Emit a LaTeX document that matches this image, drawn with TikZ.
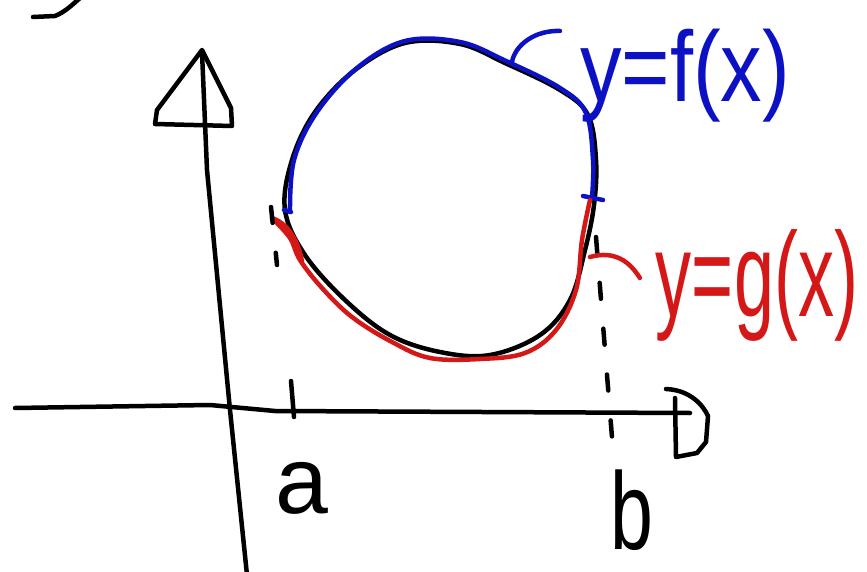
\documentclass[tikz,border=0pt]{standalone}
\usepackage{fontspec}
\setmainfont{Liberation Sans}
\usetikzlibrary{arrows.meta,positioning,calc}
\definecolor{penblue}{RGB}{12,18,195}
\definecolor{penred}{RGB}{212,24,24}

\begin{document}
\begin{tikzpicture}[x=1pt,y=-1pt,
    pen/.style={line width=4.5pt,line cap=round,line join=round},
    guide/.style={pen,dash pattern=on 16pt off 30pt},
    lbl/.style={inner sep=0pt,font=\fontsize{100}{100}\selectfont}]
    \useasboundingbox (0,0) rectangle (867,572);
    % stray stroke at the top left
    \draw[pen] (33,17) -- (55,16) .. controls (65,12) and (72,5) .. (80,-2);
    % axes, drawn by hand
    \draw[pen] (247,575) -- (230,410) -- (207,170) -- (202,52);
    \draw[pen] (202,50) -- (157,110) -- (155,124) -- (232,126) -- (231,108) -- cycle;
    \draw[pen] (15,408) -- (210,405) -- (275,411) -- (690,413);
    \draw[pen] (666,389) .. controls (690,390) and (703,405) .. (708,416)
        -- (706,442) -- (697,453) -- (676,457) -- (675,398);
    % the region
    \draw[pen] plot[smooth cycle,tension=0.6] coordinates {(285,210) (292,160) (315,112)
        (355,70) (405,43) (460,44) (505,63) (560,90) (588,115) (596,160) (594,205)
        (585,250) (570,300) (540,335) (490,355) (440,352) (390,335) (345,300) (305,255)};
    \draw[pen,penblue] plot[smooth,tension=0.6] coordinates {(290,212) (294,160) (317,112)
        (357,68) (405,41) (460,42) (506,61) (560,88) (586,113) (593,160) (592,198)};
    \draw[pen,penblue] (284,210) -- (291,212);
    \draw[pen,penblue] (583,196) -- (603,200);
    \draw[pen,penred] plot[smooth,tension=0.6] coordinates {(272,218) (290,238) (300,260)
        (322,288) (352,317) (392,342) (430,358) (480,359) (525,353) (556,330) (576,290)
        (582,240) (590,200)};
    \draw[pen,penred] (272,218) .. controls (292,225) and (300,248) .. (302,262);
    % limits
    \draw[pen] (291,381) -- (294,417);
    \draw[guide] (271,207) -- (277,265);
    \draw[guide] (596,237) -- (613,450);
    % labels
    \node[lbl,text=penblue,xscale=0.83] (flab) at (685,76) {y=f(x)};
    \node[lbl,text=penred,font=\fontsize{120}{120}\selectfont,xscale=0.6] (glab) at (757,285) {y=g(x)};
    \node[lbl,font=\fontsize{95}{95}\selectfont] (alab) at (302,488) {a};
    \node[lbl,font=\fontsize{110}{110}\selectfont,xscale=0.7] (blab) at (632,510) {b};
    \coordinate (fpt) at (512,62);
    \coordinate (gpt) at (590,257);
    \draw[pen,penblue] (fpt) .. controls (515,45) and (535,30) .. ($(flab.west)+(-20,-45)$);
    \draw[pen,penred] (gpt) .. controls (615,250) and (630,262) .. ($(glab.west)+(-16,-7)$);
\end{tikzpicture}
\end{document}
